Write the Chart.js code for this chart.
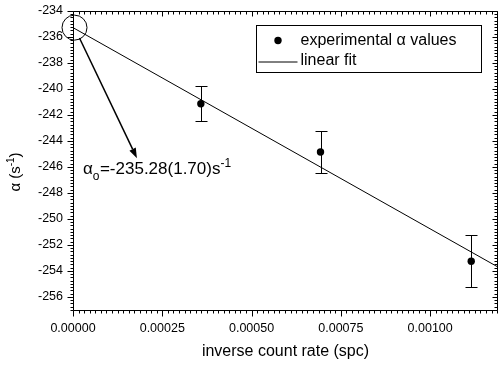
<!DOCTYPE html>
<html>
<head>
<meta charset="utf-8">
<script src="https://cdn.jsdelivr.net/npm/chart.js@4/dist/chart.umd.min.js"></script>
<style>
html, body { margin: 0; padding: 0; background: #fff; }
#wrap { width: 499px; height: 365px; }
</style>
</head>
<body>
<div id="wrap"><canvas id="chart"></canvas></div>
<script>
// experimental points
var countRate = [0.000358, 0.000693, 0.001115];
var alphaVals = [-241.14, -244.85, -253.25];
var alphaErr = [1.35, 1.65, 2.00];
// linear fit, end points
var fitX = [0, 0.00119];
var fitY = [-235.28, -253.70];
// axes
var xRange = [0, 0.00119];
var yRange = [-257.08, -234];
var xTicks = [0, 0.00025, 0.0005, 0.00075, 0.001];
var yTicks = [-256, -254, -252, -250, -248, -246, -244, -242, -240, -238, -236, -234];
// annotation
var arrowTip = [0.000179, -245.32];
var interceptText = '=-235.28(1.70)s';
var legendLabels = ['experimental \u03b1 values', 'linear fit'];

var FONT = '"Liberation Sans", Arial, sans-serif';
Chart.defaults.font.family = FONT;
Chart.defaults.color = '#000';

var X_MINOR = 0.00025 / 16;
var Y_MINOR = 0.25;

function line(ctx, x1, y1, x2, y2) {
	ctx.moveTo(x1, y1);
	ctx.lineTo(x2, y2);
}

//ticks all round the frame, out on bottom/left, mirrored in on top/right
function drawFrame(chart) {
	var ctx = chart.ctx, a = chart.chartArea;
	var xs = chart.scales.x, ys = chart.scales.y;
	var L = Math.round(a.left) + 0.5, R = Math.round(a.right) - 0.5;
	var T = Math.round(a.top) + 0.5, B = Math.round(a.bottom) - 0.5;
	ctx.save();
	ctx.strokeStyle = '#000';
	ctx.lineWidth = 1;
	ctx.beginPath();
	ctx.rect(L, T, R - L, B - T);
	var n = Math.round((xRange[1] - xRange[0]) / X_MINOR);
	for (var i = 0; i <= n; i++) {
		var px = Math.round(xs.getPixelForValue(xRange[0] + i * X_MINOR)) + 0.5;
		if (px > R) break;
		var major = i % 16 === 0;
		line(ctx, px, B, px, B + (major ? 6 : 3));
		line(ctx, px, T, px, T + (major ? 5 : 3));
	}
	var m = Math.round((yRange[1] - yRange[0]) / Y_MINOR);
	for (var j = 0; j <= m; j++) {
		var v = yRange[1] - j * Y_MINOR;
		if (v < yRange[0]) break;
		var py = Math.round(ys.getPixelForValue(v)) + 0.5;
		var maj = j % 8 === 0;
		line(ctx, L, py, L - (maj ? 6 : 3), py);
		line(ctx, R, py, R - (maj ? 5 : 3), py);
	}
	ctx.stroke();
	ctx.restore();
}

function drawErrorBars(chart) {
	var ctx = chart.ctx, xs = chart.scales.x, ys = chart.scales.y;
	ctx.save();
	ctx.strokeStyle = '#000';
	ctx.lineWidth = 1;
	ctx.beginPath();
	for (var i = 0; i < countRate.length; i++) {
		var px = Math.round(xs.getPixelForValue(countRate[i])) + 0.5;
		var top = Math.round(ys.getPixelForValue(alphaVals[i] + alphaErr[i])) + 0.5;
		var bot = Math.round(ys.getPixelForValue(alphaVals[i] - alphaErr[i])) + 0.5;
		line(ctx, px, top, px, bot);
		line(ctx, px - 6, top, px + 6, top);
		line(ctx, px - 6, bot, px + 6, bot);
	}
	ctx.stroke();
	ctx.restore();
}

function drawLegend(chart) {
	var ctx = chart.ctx, a = chart.chartArea;
	var x0 = a.left + 183.5, y0 = a.top + 14.5, w = 225, h = 47;
	ctx.save();
	ctx.strokeStyle = '#000';
	ctx.fillStyle = '#000';
	ctx.lineWidth = 1;
	ctx.strokeRect(x0, y0, w, h);
	ctx.beginPath();
	ctx.arc(x0 + 21.5, y0 + 15, 3.7, 0, Math.PI * 2);
	ctx.fill();
	ctx.beginPath();
	line(ctx, x0 + 2, y0 + 36.5, x0 + 41, y0 + 36.5);
	ctx.stroke();
	ctx.font = '16px ' + FONT;
	ctx.textBaseline = 'middle';
	ctx.fillText(legendLabels[0], x0 + 44, y0 + 15);
	ctx.fillText(legendLabels[1], x0 + 44, y0 + 35);
	ctx.restore();
}

function drawAnnotation(chart) {
	var ctx = chart.ctx, xs = chart.scales.x, ys = chart.scales.y;
	var cx = xs.getPixelForValue(fitX[0]) + 1.5, cy = ys.getPixelForValue(fitY[0]);
	var r = 12.5;
	var tx = xs.getPixelForValue(arrowTip[0]), ty = ys.getPixelForValue(arrowTip[1]);
	ctx.save();
	ctx.strokeStyle = '#000';
	ctx.fillStyle = '#000';
	ctx.lineWidth = 1;
	ctx.beginPath();
	ctx.arc(cx, cy, r, 0, Math.PI * 2);
	ctx.stroke();
	// arrow from the circle edge down to the label
	var dx = tx - cx, dy = ty - cy, len = Math.sqrt(dx * dx + dy * dy);
	var ux = dx / len, uy = dy / len;
	var sx = cx + ux * (r - 1), sy = cy + uy * (r - 1);
	var hl = 10, hw = 3.5;
	ctx.lineWidth = 1.5;
	ctx.beginPath();
	line(ctx, sx, sy, tx - ux * hl, ty - uy * hl);
	ctx.stroke();
	ctx.beginPath();
	ctx.moveTo(tx, ty);
	ctx.lineTo(tx - ux * hl - uy * hw, ty - uy * hl + ux * hw);
	ctx.lineTo(tx - ux * hl + uy * hw, ty - uy * hl - ux * hw);
	ctx.closePath();
	ctx.fill();
	// alpha_o = ... s^-1
	var bx = tx - 54, by = ty + 16;
	ctx.textBaseline = 'alphabetic';
	ctx.font = '17px ' + FONT;
	ctx.fillText('\u03b1', bx, by);
	bx += ctx.measureText('\u03b1').width;
	ctx.font = '12px ' + FONT;
	ctx.fillText('o', bx, by + 6);
	bx += ctx.measureText('o').width + 0.5;
	ctx.font = '17px ' + FONT;
	ctx.fillText(interceptText, bx, by);
	bx += ctx.measureText(interceptText).width;
	ctx.font = '12px ' + FONT;
	ctx.fillText('-1', bx, by - 7);
	ctx.restore();
}

function drawYTitle(chart) {
	var ctx = chart.ctx;
	ctx.save();
	ctx.translate(16, 172);
	ctx.rotate(-Math.PI / 2);
	ctx.fillStyle = '#000';
	ctx.textBaseline = 'middle';
	var big = '15px ' + FONT, small = '10px ' + FONT;
	ctx.font = big;
	var w1 = ctx.measureText('\u03b1 (s').width, w3 = ctx.measureText(')').width;
	ctx.font = small;
	var w2 = ctx.measureText('-1').width;
	var x = -(w1 + w2 + w3) / 2;
	ctx.font = big;
	ctx.fillText('\u03b1 (s', x, 0);
	ctx.font = small;
	ctx.fillText('-1', x + w1, -5);
	ctx.font = big;
	ctx.fillText(')', x + w1 + w2, 0);
	ctx.restore();
}

var decorations = {
	id: 'decorations',
	beforeDatasetsDraw: function (chart) {
		drawErrorBars(chart);
	},
	afterDraw: function (chart) {
		drawFrame(chart);
		drawLegend(chart);
		drawAnnotation(chart);
		drawYTitle(chart);
	}
};

function noPad(s) {
	s.paddingLeft = 0;
	s.paddingRight = 0;
	s.paddingTop = 0;
	s.paddingBottom = 0;
}

new Chart(document.getElementById('chart'), {
	type: 'scatter',
	data: {
		datasets: [{
			label: legendLabels[0],
			data: countRate.map(function (x, i) { return { x: x, y: alphaVals[i] }; }),
			backgroundColor: '#000',
			borderWidth: 0,
			pointRadius: 3.7,
			pointHoverRadius: 3.7
		}, {
			type: 'line',
			label: legendLabels[1],
			data: fitX.map(function (x, i) { return { x: x, y: fitY[i] }; }),
			borderColor: '#000',
			borderWidth: 1,
			pointRadius: 0,
			fill: false
		}]
	},
	options: {
		responsive: true,
		maintainAspectRatio: false,
		animation: false,
		events: [],
		layout: { autoPadding: false, padding: { top: 11, right: 1, left: 0, bottom: 0 } },
		plugins: {
			legend: { display: false },
			tooltip: { enabled: false }
		},
		scales: {
			x: {
				type: 'linear',
				min: xRange[0],
				max: xRange[1],
				grid: { display: false, drawTicks: false },
				border: { display: false },
				afterBuildTicks: function (s) {
					s.ticks = xTicks.map(function (v) { return { value: v }; });
				},
				afterFit: function (s) { s.height = 54; noPad(s); },
				ticks: {
					padding: 10,
					maxRotation: 0,
					font: { size: 12.5 },
					callback: function (v) { return Number(v).toFixed(5); }
				},
				title: {
					display: true,
					text: 'inverse count rate (spc)',
					font: { size: 16 },
					padding: { top: 4, bottom: 4 }
				}
			},
			y: {
				type: 'linear',
				min: yRange[0],
				max: yRange[1],
				grid: { display: false, drawTicks: false },
				border: { display: false },
				afterBuildTicks: function (s) {
					s.ticks = yTicks.map(function (v) { return { value: v }; });
				},
				afterFit: function (s) { s.width = 73; noPad(s); },
				ticks: {
					padding: 10,
					font: { size: 12.5 },
					callback: function (v) { return String(v); }
				}
			}
		}
	},
	plugins: [decorations]
});
</script>
</body>
</html>
